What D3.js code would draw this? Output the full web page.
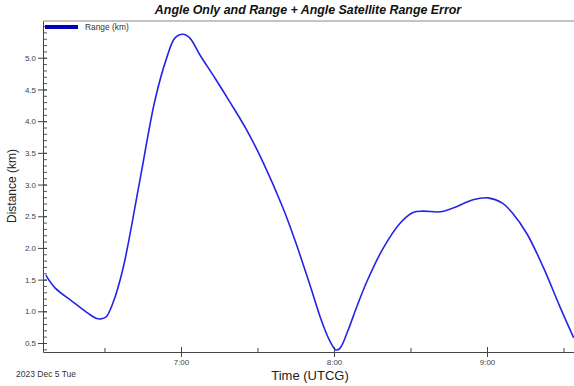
<!DOCTYPE html>
<html>
<head>
<meta charset="utf-8">
<script src="https://cdn.jsdelivr.net/npm/d3@7"></script>
<style>
  body { margin: 0; background: #fff; }
  svg { font-family: Arial, "Liberation Sans", sans-serif; }
</style>
</head>
<body>
<svg id="chart" width="574" height="386"></svg>
<script>
// data: minutes after 6:00 UTCG on 2023 Dec 5, range error in km
var minutes = [7, 10.6, 17.6, 23.5, 26.7, 28.6, 30.6, 33.3, 37.3, 43.9, 49.8, 54.5, 57.6,
  60.8, 63.5, 67.5, 73.3, 79.2, 85.9, 92.2, 100, 104.7, 110.6, 115.3, 118.4, 120.8, 122.4,
  125.5, 129, 132.9, 139.2, 145.9, 151, 154.9, 161.6, 166.7, 174.5, 180.4, 185.9, 190.2,
  195.7, 202, 208.6, 214];
var rangeKm = [1.57, 1.37, 1.15, 0.97, 0.89, 0.88, 0.91, 1.13, 1.68, 3.07, 4.33, 5.01, 5.31,
  5.37, 5.31, 5.04, 4.68, 4.30, 3.85, 3.35, 2.63, 2.12, 1.41, 0.83, 0.53, 0.39, 0.42,
  0.70, 1.08, 1.47, 1.99, 2.39, 2.56, 2.58, 2.57, 2.63, 2.76, 2.79, 2.71, 2.54,
  2.22, 1.70, 1.07, 0.58];
var yTicks = [0.5, 1.0, 1.5, 2.0, 2.5, 3.0, 3.5, 4.0, 4.5, 5.0];
var xTickLabels = ['7:00', '8:00', '9:00'];

var base = Date.UTC(2023, 11, 5, 6, 0, 0);
var toDate = function(m){ return new Date(base + m * 60000); };

var data = minutes.map(function(m, i){ return { t: toDate(m), v: rangeKm[i] }; });

var margin = { top: 21, right: 0, bottom: 34, left: 43 },
    width  = 574 - margin.left - margin.right,
    height = 386 - margin.top - margin.bottom;

var svg = d3.select('#chart');

var x = d3.scaleUtc()
    .domain([toDate(5.9), toDate(214.1)])
    .range([0, width]);

var y = d3.scaleLinear()
    .domain([0.358, 5.58])
    .range([height, 0]);

var g = svg.append('g')
    .attr('transform', 'translate(' + margin.left + ',' + margin.top + ')');

// title
svg.append('text')
    .attr('x', 308).attr('y', 14)
    .attr('text-anchor', 'middle')
    .attr('font-size', '12.4px')
    .attr('font-weight', 'bold')
    .attr('font-style', 'italic')
    .attr('fill', '#111')
    .text('Angle Only and Range + Angle Satellite Range Error');

// top border
g.append('line')
    .attr('x1', 0).attr('x2', width)
    .attr('y1', 0).attr('y2', 0)
    .attr('stroke', '#888').attr('stroke-width', 1.2);

// y axis: minor ticks every 0.1
var yMinor = d3.range(4, 56).map(function(i){ return i / 10; })
    .filter(function(v){ return v >= 0.36 && v <= 5.58; });
g.append('g')
    .call(d3.axisLeft(y).tickValues(yMinor).tickSize(-4).tickFormat(''))
    .call(function(a){ a.select('.domain').remove(); })
    .selectAll('line').attr('stroke', '#555');

var yAxis = g.append('g')
    .call(d3.axisLeft(y).tickValues(yTicks).tickSizeInner(5).tickSizeOuter(0)
      .tickFormat(d3.format('.1f')));
yAxis.select('.domain').attr('stroke', '#444');
yAxis.selectAll('line').attr('stroke', '#444').attr('x2', 4).attr('x1', -5);
yAxis.selectAll('text').attr('x', -7).attr('font-size', '8px').attr('fill', '#444')
    .attr('font-family', 'Arial, "Liberation Sans", sans-serif');

// x axis
var xMinor = [30, 90, 150, 210].map(toDate);
var xMajor = [60, 120, 180].map(toDate);

var xMinorAxis = g.append('g')
    .attr('transform', 'translate(0,' + height + ')')
    .call(d3.axisBottom(x).tickValues(xMinor).tickSize(-4).tickFormat(''));
xMinorAxis.select('.domain').remove();
xMinorAxis.selectAll('line').attr('stroke', '#444');

var xAxis = g.append('g')
    .attr('transform', 'translate(0,' + height + ')')
    .call(d3.axisBottom(x).tickValues(xMajor).tickSizeOuter(0)
      .tickFormat(function(d, i){ return xTickLabels[i]; }));
xAxis.select('.domain').attr('stroke', '#444');
xAxis.selectAll('line').attr('stroke', '#444').attr('y1', -5).attr('y2', 5);
xAxis.selectAll('text').attr('y', 7).attr('font-size', '8px').attr('fill', '#444')
    .attr('font-family', 'Arial, "Liberation Sans", sans-serif');

// the curve
var line = d3.line()
    .x(function(d){ return x(d.t); })
    .y(function(d){ return y(d.v); })
    .curve(d3.curveCatmullRom.alpha(0.5));

g.append('path')
    .datum(data)
    .attr('fill', 'none')
    .attr('stroke', '#2424e6')
    .attr('stroke-width', 1.6)
    .attr('d', line);

// legend
svg.append('line')
    .attr('x1', 45).attr('x2', 78)
    .attr('y1', 27).attr('y2', 27)
    .attr('stroke', '#0000c0').attr('stroke-width', 4);
svg.append('text')
    .attr('x', 85).attr('y', 30)
    .attr('font-size', '8.4px').attr('fill', '#333')
    .text('Range (km)');

// axis titles
svg.append('text')
    .attr('transform', 'translate(16,186) rotate(-90)')
    .attr('text-anchor', 'middle')
    .attr('font-size', '12px').attr('fill', '#222')
    .text('Distance (km)');

svg.append('text')
    .attr('x', 310).attr('y', 380)
    .attr('text-anchor', 'middle')
    .attr('font-size', '13px').attr('fill', '#222')
    .text('Time (UTCG)');

svg.append('text')
    .attr('x', 16).attr('y', 377)
    .attr('font-size', '8.5px').attr('fill', '#333')
    .text('2023 Dec 5 Tue');
</script>
</body>
</html>
